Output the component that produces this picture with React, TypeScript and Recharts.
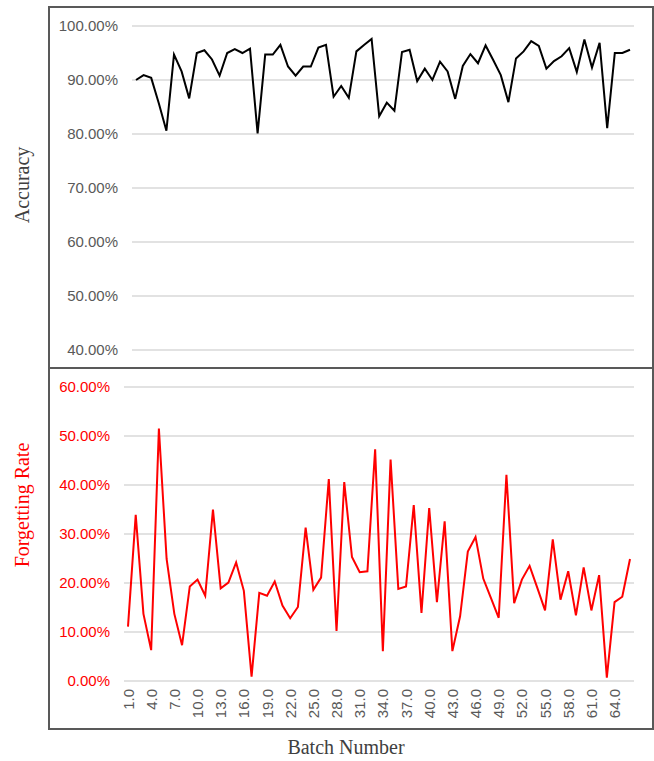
import { CartesianGrid, Line, LineChart, XAxis, YAxis } from "recharts";

const batches = Array.from({ length: 66 }, (_, i) => i + 1);

const accuracy = [
  90.0, 90.9, 90.4, 85.7, 80.6, 94.7, 91.6, 86.6, 95.0, 95.5,
  93.8, 90.8, 95.0, 95.7, 95.0, 95.8, 80.1, 94.7, 94.7, 96.5,
  92.5, 90.8, 92.5, 92.5, 96.0, 96.5, 86.9, 88.9, 86.7, 95.3,
  96.5, 97.6, 83.3, 85.8, 84.3, 95.2, 95.6, 89.8, 92.1, 90.0,
  93.4, 91.6, 86.5, 92.6, 94.8, 93.1, 96.4, 93.7, 90.9, 85.9,
  94.0, 95.3, 97.2, 96.3, 92.1, 93.5, 94.4, 95.9, 91.5, 97.5,
  92.3, 96.9, 81.1, 95.0, 95.0, 95.6,
];

const forgetting = [
  11.1, 33.9, 13.7, 6.3, 51.5, 24.9, 13.7, 7.3, 19.3, 20.7,
  17.4, 35.0, 18.9, 20.1, 24.2, 18.4, 0.9, 18.0, 17.4, 20.3,
  15.4, 12.8, 15.1, 31.3, 18.6, 21.1, 41.2, 10.2, 40.6, 25.3,
  22.2, 22.4, 47.3, 6.1, 45.2, 18.8, 19.3, 35.9, 13.9, 35.3,
  16.1, 32.6, 6.1, 13.2, 26.4, 29.4, 20.9, 16.9, 12.9, 42.1,
  15.9, 20.7, 23.5, 19.0, 14.4, 28.9, 16.6, 22.4, 13.4, 23.2,
  14.4, 21.6, 0.7, 16.1, 17.2, 24.9,
];

const accTicks = [40, 50, 60, 70, 80, 90, 100];
const fgtTicks = [0, 10, 20, 30, 40, 50, 60];

const data = batches.map((b, i) => ({
  batch: b,
  acc: accuracy[i],
  fgt: forgetting[i],
}));

const pct = (v: number) => `${v.toFixed(2)}%`;
const font = "'Liberation Sans', Arial, sans-serif";
const serif = "'Liberation Serif', 'Times New Roman', serif";

const BatchTick = (props: any) => {
  const { x, y, payload } = props;
  return (
    <text
      x={x}
      y={y}
      transform={`rotate(-90, ${x}, ${y})`}
      textAnchor="end"
      dominantBaseline="central"
      fill="#595959"
      fontSize={15}
      fontFamily={font}
    >
      {Number(payload.value).toFixed(1)}
    </text>
  );
};

export default function App() {
  return (
    <div
      style={{
        position: "absolute",
        left: 0,
        top: 0,
        width: 654,
        height: 761,
        background: "#fff",
      }}
    >
      {/* top: accuracy */}
      <div style={{ position: "absolute", left: 0, top: 0 }}>
        <LineChart
          width={654}
          height={368}
          data={data}
          margin={{ top: 26, right: 20, bottom: 18, left: 0 }}
        >
          <CartesianGrid vertical={false} stroke="#d9d9d9" strokeWidth={1.5} />
          <XAxis dataKey="batch" hide padding={{ left: 4, right: 4 }} />
          <YAxis
            width={132}
            domain={[40, 100]}
            ticks={accTicks}
            tickFormatter={pct}
            axisLine={false}
            tickLine={false}
            tickMargin={8}
            tick={{ fill: "#595959", fontSize: 15, fontFamily: font }}
          />
          <Line
            type="linear"
            dataKey="acc"
            stroke="#000"
            strokeWidth={2}
            dot={false}
            isAnimationActive={false}
          />
        </LineChart>
      </div>

      {/* bottom: forgetting rate */}
      <div style={{ position: "absolute", left: 0, top: 368 }}>
        <LineChart
          width={654}
          height={393}
          data={data}
          margin={{ top: 19, right: 20, bottom: 40, left: 0 }}
        >
          <CartesianGrid vertical={false} stroke="#d9d9d9" strokeWidth={1.5} />
          <XAxis
            dataKey="batch"
            interval={2}
            padding={{ left: 4, right: 4 }}
            axisLine={false}
            tickLine={false}
            tickSize={0}
            tickMargin={8}
            height={40}
            tick={<BatchTick />}
          />
          <YAxis
            width={124}
            domain={[0, 60]}
            ticks={fgtTicks}
            tickFormatter={pct}
            axisLine={false}
            tickLine={false}
            tickMargin={8}
            tick={{ fill: "#ff0000", fontSize: 15, fontFamily: font }}
          />
          <Line
            type="linear"
            dataKey="fgt"
            stroke="#ff0000"
            strokeWidth={2}
            dot={false}
            isAnimationActive={false}
          />
        </LineChart>
      </div>

      {/* frames */}
      <div
        style={{
          position: "absolute",
          left: 48,
          top: 6,
          width: 602,
          height: 720,
          border: "2px solid #595959",
          pointerEvents: "none",
        }}
      />
      <div
        style={{
          position: "absolute",
          left: 48,
          top: 367,
          width: 606,
          height: 2,
          background: "#595959",
        }}
      />

      {/* axis titles */}
      <svg
        width={654}
        height={761}
        style={{ position: "absolute", left: 0, top: 0, pointerEvents: "none" }}
      >
        <text
          x={22}
          y={185}
          transform="rotate(-90, 22, 185)"
          textAnchor="middle"
          dominantBaseline="central"
          fontFamily={serif}
          fontSize={20}
          fill="#404040"
        >
          Accuracy
        </text>
        <text
          x={22}
          y={505}
          transform="rotate(-90, 22, 505)"
          textAnchor="middle"
          dominantBaseline="central"
          fontFamily={serif}
          fontSize={20}
          fill="#ff0000"
        >
          Forgetting Rate
        </text>
        <text
          x={346}
          y={747}
          textAnchor="middle"
          dominantBaseline="central"
          fontFamily={serif}
          fontSize={20}
          fill="#404040"
        >
          Batch Number
        </text>
      </svg>
    </div>
  );
}
